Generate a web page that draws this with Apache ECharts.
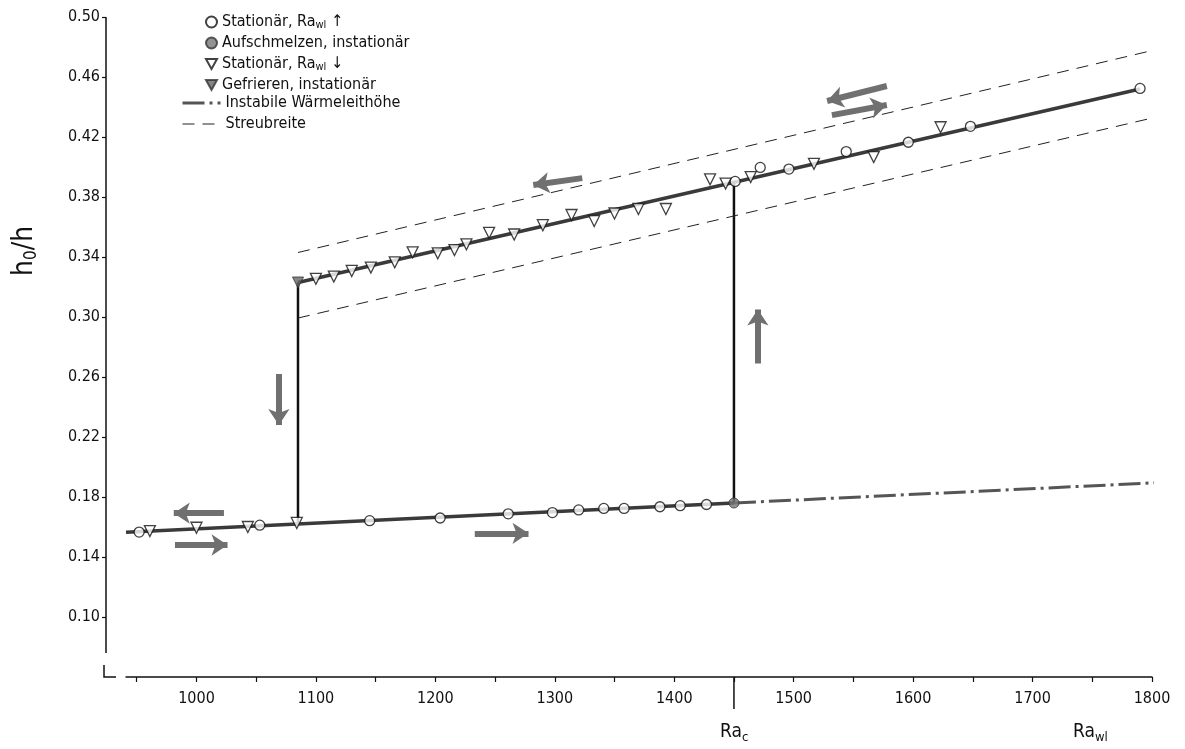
<!DOCTYPE html>
<html>
<head>
<meta charset="utf-8">
<script src="https://cdn.jsdelivr.net/npm/echarts@6.0.0/dist/echarts.min.js"></script>
<style>
html, body {margin:0; padding:0; background:#fff;}
#chart {width:1185px; height:749px;}
</style>
</head>
<body>
<div id="chart"></div>
<script>
const FONT = '"DejaVu Sans Condensed", "Liberation Sans Narrow", sans-serif'

// open circles: stationary, Ra_wl rising
const circleX = [952, 1053, 1145, 1204, 1261, 1298, 1320, 1341, 1358, 1388, 1405, 1427,
  1451, 1472, 1496, 1544, 1596, 1648, 1790]
const circleY = [0.1566, 0.1612, 0.1642, 0.1660, 0.1688, 0.1696, 0.1714, 0.1724, 0.1724, 0.1735, 0.1742, 0.1750,
  0.3904, 0.3997, 0.3986, 0.4103, 0.4165, 0.4271, 0.4524]

// filled circle: melting, transient
const meltX = [1450]
const meltY = [0.1760]

// open triangles: stationary, Ra_wl falling
const triX = [961, 1000, 1043, 1084,
  1100, 1115, 1130, 1146, 1166, 1181, 1202, 1216, 1226, 1245, 1266, 1290,
  1314, 1333, 1350, 1370, 1393, 1430, 1443, 1464, 1517, 1567, 1623]
const triY = [0.1573, 0.1595, 0.1600, 0.1627,
  0.3254, 0.3269, 0.3307, 0.3329, 0.3364, 0.3431, 0.3424, 0.3446, 0.3484, 0.3561, 0.3550, 0.3612,
  0.3680, 0.3640, 0.3690, 0.3720, 0.3720, 0.3918, 0.3889, 0.3933, 0.4021, 0.4066, 0.4265]

// filled triangle: freezing, transient
const freezeX = [1085]
const freezeY = [0.3230]

// fitted lines and jumps
const lowerFit = [[941, 0.1565], [1450, 0.1760]]
const unstableLine = [[1450, 0.1760], [1827, 0.1904]]
const upperFit = [[1085, 0.3230], [1790, 0.4520]]
const jumpDown = [[1085, 0.1627], [1085, 0.3230]]
const jumpUp = [[1450, 0.1760], [1450, 0.3904]]
const scatterUpper = [[1085, 0.3430], [1802, 0.4780]]
const scatterLower = [[1085, 0.2993], [1802, 0.4330]]

// direction arrows [from, to]
const arrows = [
  [[1023, 0.1692], [981, 0.1692]],
  [[982, 0.1480], [1026, 0.1480]],
  [[1233, 0.1558], [1278, 0.1558]],
  [[1069, 0.2620], [1069, 0.2280]],
  [[1470, 0.2690], [1470, 0.3050]],
  [[1323, 0.3926], [1282, 0.3880]],
  [[1578, 0.4540], [1528, 0.4440]],
  [[1532, 0.4346], [1578, 0.4413]]
]

const xTicks = [950, 1000, 1050, 1100, 1150, 1200, 1250, 1300, 1350, 1400, 1450, 1500, 1550, 1600, 1650, 1700, 1750, 1800]
const xLabels = [1000, 1100, 1200, 1300, 1400, 1500, 1600, 1700, 1800]
const yLabels = [0.10, 0.14, 0.18, 0.22, 0.26, 0.30, 0.34, 0.38, 0.42, 0.46, 0.50]

const DOWN_TRIANGLE = 'path://M0,0L10,0L5,9Z'

function zip(xs, ys) {
  return xs.map((x, i) => [x, ys[i]])
}

const chart = echarts.init(document.getElementById('chart'))

const markerStyle = {color: '#fff', borderColor: '#111', borderWidth: 1.3}

const option = {
  animation: false,
  textStyle: {fontFamily: FONT},
  grid: {left: 126, right: 33, top: 17, bottom: 72},
  legend: [
    {
      data: ['Stationär, Ra_wl ↑', 'Aufschmelzen, instationär', 'Stationär, Ra_wl ↓', 'Gefrieren, instationär'],
      orient: 'vertical',
      left: 200,
      top: 8,
      itemWidth: 11,
      itemHeight: 11,
      itemGap: 3,
      selectedMode: false,
      formatter: name => name.replace('Ra_wl', 'Ra{s|wl}'),
      textStyle: {
        fontFamily: FONT, fontSize: 16, color: '#111', lineHeight: 18,
        rich: {s: {fontFamily: FONT, fontSize: 11, color: '#111', lineHeight: 18, padding: [7, 0, 0, 0]}}
      }
    },
    {
      data: ['Instabile Wärmeleithöhe', 'Streubreite'],
      orient: 'vertical',
      left: 176,
      top: 89,
      itemWidth: 38,
      itemHeight: 12,
      itemGap: 3,
      selectedMode: false,
      itemStyle: {opacity: 0},
      lineStyle: {width: 'inherit'},
      textStyle: {fontFamily: FONT, fontSize: 16, color: '#111', lineHeight: 18}
    }
  ],
  xAxis: {
    type: 'value',
    min: 941,
    max: 1800,
    splitLine: {show: false},
    axisLine: {lineStyle: {color: '#111', width: 1.5}},
    axisTick: {customValues: xTicks, length: 5, lineStyle: {color: '#111', width: 1.2}},
    axisLabel: {customValues: xLabels, margin: 14, fontFamily: FONT, fontSize: 16, color: '#111',
      formatter: v => String(v)}
  },
  yAxis: {
    type: 'value',
    min: 0.06,
    max: 0.50,
    offset: 20,
    splitLine: {show: false},
    axisLine: {show: false},
    axisTick: {show: true, customValues: yLabels, length: 4, lineStyle: {color: '#111', width: 1.2}},
    axisLabel: {customValues: yLabels, margin: 6, fontFamily: FONT, fontSize: 16, color: '#111',
      formatter: v => v.toFixed(2)}
  },
  series: [
    {type: 'line', data: lowerFit, symbol: 'none', z: 2,
      lineStyle: {color: '#3a3a3a', width: 3.5}},
    {type: 'line', data: upperFit, symbol: 'none', z: 2,
      lineStyle: {color: '#3a3a3a', width: 3.5}},
    {type: 'line', data: jumpDown, symbol: 'none', z: 2,
      lineStyle: {color: '#111', width: 2.5}},
    {type: 'line', data: jumpUp, symbol: 'none', z: 2,
      lineStyle: {color: '#111', width: 2.5}},
    {name: 'Instabile Wärmeleithöhe', type: 'line', data: unstableLine, symbol: 'none', clip: false, z: 2,
      itemStyle: {color: '#555'},
      lineStyle: {color: '#555', width: 3, type: [22, 5, 3, 5]}},
    {name: 'Streubreite', type: 'line', data: scatterUpper, symbol: 'none', clip: false, z: 2,
      itemStyle: {color: '#222'},
      lineStyle: {color: '#222', width: 1, type: [12, 8]}},
    {name: 'Streubreite', type: 'line', data: scatterLower, symbol: 'none', clip: false, z: 2,
      itemStyle: {color: '#222'},
      lineStyle: {color: '#222', width: 1, type: [12, 8]}},
    {type: 'line', data: [], z: 4, silent: true,
      markLine: {
        silent: true,
        symbol: ['none', 'arrow'],
        symbolSize: 16,
        label: {show: false},
        lineStyle: {color: '#707070', width: 6, type: 'solid'},
        data: arrows.map(a => [{coord: a[0]}, {coord: a[1]}])
      }},
    {name: 'Stationär, Ra_wl ↑', type: 'scatter', data: zip(circleX, circleY), z: 3,
      symbol: 'circle', symbolSize: 10, itemStyle: markerStyle},
    {name: 'Aufschmelzen, instationär', type: 'scatter', data: zip(meltX, meltY), z: 3,
      symbol: 'circle', symbolSize: 10, itemStyle: {color: '#777', borderColor: '#333', borderWidth: 1}},
    {name: 'Stationär, Ra_wl ↓', type: 'scatter', data: zip(triX, triY), z: 3,
      symbol: DOWN_TRIANGLE, symbolSize: 11, itemStyle: markerStyle},
    {name: 'Gefrieren, instationär', type: 'scatter', data: zip(freezeX, freezeY), z: 3,
      symbol: DOWN_TRIANGLE, symbolSize: 11, itemStyle: {color: '#666', borderColor: '#333', borderWidth: 1}}
  ]
}

chart.setOption(option)

// y axis line with the small corner mark, long tick at Ra_c, axis captions, y axis name
const raC = chart.convertToPixel({xAxisIndex: 0}, 1450)
const axisY = chart.convertToPixel({yAxisIndex: 0}, 0.06)
const topY = chart.convertToPixel({yAxisIndex: 0}, 0.50)
const stopY = chart.convertToPixel({yAxisIndex: 0}, 0.076)
const cornerY = chart.convertToPixel({yAxisIndex: 0}, 0.068)
const yAxisX = 126 - 20
chart.setOption({
  graphic: [
    {type: 'line', shape: {x1: yAxisX, y1: topY, x2: yAxisX, y2: stopY},
      style: {stroke: '#111', lineWidth: 1.5}},
    {type: 'polyline', shape: {points: [[yAxisX - 2, cornerY], [yAxisX - 2, axisY], [yAxisX + 10, axisY]]},
      style: {stroke: '#111', lineWidth: 1.5, fill: null}},
    {type: 'line', shape: {x1: raC, y1: axisY, x2: raC, y2: axisY + 32},
      style: {stroke: '#111', lineWidth: 1.5}},
    {type: 'text', x: raC - 14, y: axisY + 44,
      style: {text: 'Ra{s|c}', fontFamily: FONT, fontSize: 19, fill: '#111',
        rich: {s: {fontFamily: FONT, fontSize: 13, fill: '#111', padding: [10, 0, 0, 0]}}}},
    {type: 'text', x: 1073, y: axisY + 44,
      style: {text: 'Ra{s|wl}', fontFamily: FONT, fontSize: 19, fill: '#111',
        rich: {s: {fontFamily: FONT, fontSize: 13, fill: '#111', padding: [10, 0, 0, 0]}}}},
    {type: 'text', x: 10, y: 276, rotation: Math.PI / 2,
      style: {text: 'h{s|0}/h', fontFamily: FONT, fontSize: 28, fill: '#111',
        rich: {s: {fontFamily: FONT, fontSize: 17, fill: '#111', padding: [13, 0, 0, 0]}}}}
  ]
})
</script>
</body>
</html>
